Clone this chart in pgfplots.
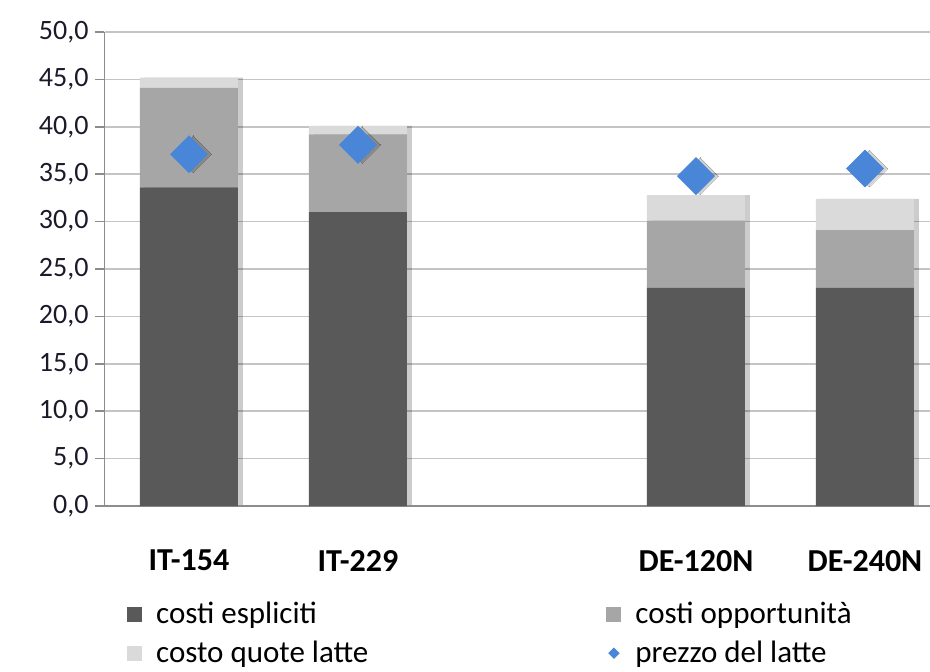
\documentclass[border=0pt]{standalone}
\usepackage{fontspec}
\setmainfont{Carlito}
\usepackage{pgfplots}
\pgfplotsset{compat=1.18}
\definecolor{dk}{HTML}{595959}
\definecolor{md}{HTML}{A6A6A6}
\definecolor{lt}{HTML}{DADADA}
\definecolor{pblue}{HTML}{4A86D8}
\definecolor{axgray}{HTML}{8C8C8C}
\definecolor{grgray}{HTML}{C4C4C4}
\definecolor{txt}{HTML}{1A1A2A}
\begin{document}
\begin{tikzpicture}
\path[use as bounding box] (-52.25pt,-82.5pt) rectangle (412.75pt,253pt);
\pgfplotsset{base/.style={width=412.75pt,height=237pt,scale only axis,
  xmin=-0.5,xmax=4.385,ymin=0,ymax=50,at={(0pt,0pt)},anchor=south west}}
% grid and bar shadows
\begin{axis}[base, ybar, bar width=49pt, bar shift=2.5pt,
  axis line style={draw=none}, xtick=\empty, ytick={0,5,...,50}, yticklabels={},
  ytick style={draw=none},
  ymajorgrids, grid style={draw=grgray,line width=0.8pt}]
\addplot[draw=none, fill=black, fill opacity=0.2] coordinates {(0,45.2) (1,40.1) (3,32.8) (4,32.4)};
\end{axis}
\begin{axis}[base,
  ybar stacked, bar width=49pt,
  axis lines=left, axis line style={-,draw=axgray,line width=0.8pt},
  ytick={0,5,...,50},
  tick align=outside, major tick length=4.5pt,
  ytick style={draw=axgray,line width=0.8pt},
  xtick={0,1,3,4}, xticklabels={IT-154,IT-229,DE-120N,DE-240N},
  xtick style={draw=none},
  extra x ticks={-0.5,0.5,1.5,2.5,3.5}, extra x tick labels={},
  extra x tick style={grid=none, tick style={draw=axgray,line width=0.8pt}},
  yticklabel style={font=\fontsize{14}{17}\selectfont, text=txt},
  xticklabel style={font=\fontsize{16}{19}\selectfont\bfseries, text=black, yshift=-14pt},
  /pgf/number format/.cd, fixed, fixed zerofill, precision=1, use comma, assume math mode=true,
  /pgfplots/.cd,
  legend columns=2, legend cell align=left,
  legend style={draw=none, fill=none, at={(0.027,-0.194)}, anchor=north west,
    font=\fontsize{15.5}{18}\selectfont, inner sep=0pt, row sep=3pt,
    /tikz/every odd column/.append style={column sep=5pt},
    /tikz/every even column/.append style={column sep=117pt}},
  every axis plot/.append style={draw=none},
]
\addplot[fill=dk, legend image code/.code={\fill[dk] (0pt,-3.75pt) rectangle (7.5pt,3.75pt);}]
  coordinates {(0,33.6) (1,31.0) (3,23.0) (4,23.0)};
\addlegendentry{costi espliciti}
\addplot[fill=md, legend image code/.code={\fill[md] (0pt,-3.75pt) rectangle (7.5pt,3.75pt);}]
  coordinates {(0,10.5) (1,8.2) (3,7.1) (4,6.1)};
\addlegendentry{costi opportunità}
\addplot[fill=lt, legend image code/.code={\fill[lt] (0pt,-3.75pt) rectangle (7.5pt,3.75pt);}]
  coordinates {(0,1.1) (1,0.9) (3,2.7) (4,3.3)};
\addlegendentry{costo quote latte}
\addlegendimage{legend image code/.code={\fill[pblue] (3.75pt,-2.85pt) -- (6.6pt,0pt) -- (3.75pt,2.85pt) -- (0.9pt,0pt) -- cycle;}}
\addlegendentry{prezzo del latte}
\end{axis}
\begin{axis}[base, axis lines=none, xtick=\empty, ytick=\empty]
\addplot[only marks, mark=square*, mark size=6.5pt, mark options={rotate=45, fill=black, draw=black, line width=0pt, opacity=0.18, xshift=1.5pt, yshift=-1.5pt}]
  coordinates {(0,37.1) (1,38.1) (3,34.8) (4,35.6)};
\addplot[only marks, mark=square*, mark size=6.5pt, mark options={rotate=45, fill=pblue, draw=pblue}]
  coordinates {(0,37.1) (1,38.1) (3,34.8) (4,35.6)};
\end{axis}
\end{tikzpicture}
\end{document}
